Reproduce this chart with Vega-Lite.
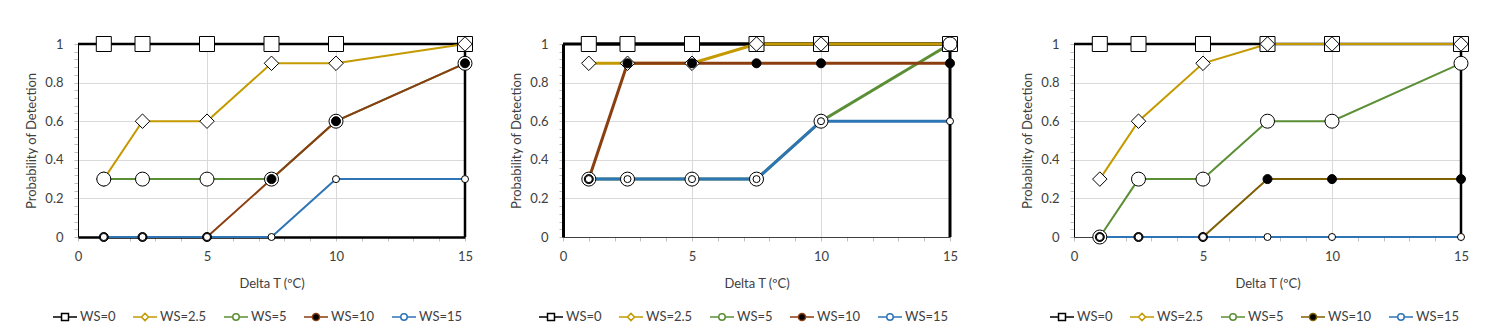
{
  "$schema": "https://vega.github.io/schema/vega-lite/v6.json",
  "padding": {"left": 25, "top": 34, "right": 5, "bottom": 5},
  "datasets": {
    "pts": [
      {"p":1,"ws":"WS=0","x":1,"y":1},{"p":1,"ws":"WS=0","x":2.5,"y":1},{"p":1,"ws":"WS=0","x":5,"y":1},{"p":1,"ws":"WS=0","x":7.5,"y":1},{"p":1,"ws":"WS=0","x":10,"y":1},{"p":1,"ws":"WS=0","x":15,"y":1},
      {"p":1,"ws":"WS=2.5","x":1,"y":0.3},{"p":1,"ws":"WS=2.5","x":2.5,"y":0.6},{"p":1,"ws":"WS=2.5","x":5,"y":0.6},{"p":1,"ws":"WS=2.5","x":7.5,"y":0.9},{"p":1,"ws":"WS=2.5","x":10,"y":0.9},{"p":1,"ws":"WS=2.5","x":15,"y":1},
      {"p":1,"ws":"WS=5","x":1,"y":0.3},{"p":1,"ws":"WS=5","x":2.5,"y":0.3},{"p":1,"ws":"WS=5","x":5,"y":0.3},{"p":1,"ws":"WS=5","x":7.5,"y":0.3},{"p":1,"ws":"WS=5","x":10,"y":0.6},{"p":1,"ws":"WS=5","x":15,"y":0.9},
      {"p":1,"ws":"WS=10","x":1,"y":0},{"p":1,"ws":"WS=10","x":2.5,"y":0},{"p":1,"ws":"WS=10","x":5,"y":0},{"p":1,"ws":"WS=10","x":7.5,"y":0.3},{"p":1,"ws":"WS=10","x":10,"y":0.6},{"p":1,"ws":"WS=10","x":15,"y":0.9},
      {"p":1,"ws":"WS=15","x":1,"y":0},{"p":1,"ws":"WS=15","x":2.5,"y":0},{"p":1,"ws":"WS=15","x":5,"y":0},{"p":1,"ws":"WS=15","x":7.5,"y":0},{"p":1,"ws":"WS=15","x":10,"y":0.3},{"p":1,"ws":"WS=15","x":15,"y":0.3},

      {"p":2,"ws":"WS=0","x":1,"y":1},{"p":2,"ws":"WS=0","x":2.5,"y":1},{"p":2,"ws":"WS=0","x":5,"y":1},{"p":2,"ws":"WS=0","x":7.5,"y":1},{"p":2,"ws":"WS=0","x":10,"y":1},{"p":2,"ws":"WS=0","x":15,"y":1},
      {"p":2,"ws":"WS=2.5","x":1,"y":0.9},{"p":2,"ws":"WS=2.5","x":2.5,"y":0.9},{"p":2,"ws":"WS=2.5","x":5,"y":0.9},{"p":2,"ws":"WS=2.5","x":7.5,"y":1},{"p":2,"ws":"WS=2.5","x":10,"y":1},{"p":2,"ws":"WS=2.5","x":15,"y":1},
      {"p":2,"ws":"WS=5","x":1,"y":0.3},{"p":2,"ws":"WS=5","x":2.5,"y":0.3},{"p":2,"ws":"WS=5","x":5,"y":0.3},{"p":2,"ws":"WS=5","x":7.5,"y":0.3},{"p":2,"ws":"WS=5","x":10,"y":0.6},{"p":2,"ws":"WS=5","x":15,"y":1},
      {"p":2,"ws":"WS=10","x":1,"y":0.3},{"p":2,"ws":"WS=10","x":2.5,"y":0.9},{"p":2,"ws":"WS=10","x":5,"y":0.9},{"p":2,"ws":"WS=10","x":7.5,"y":0.9},{"p":2,"ws":"WS=10","x":10,"y":0.9},{"p":2,"ws":"WS=10","x":15,"y":0.9},
      {"p":2,"ws":"WS=15","x":1,"y":0.3},{"p":2,"ws":"WS=15","x":2.5,"y":0.3},{"p":2,"ws":"WS=15","x":5,"y":0.3},{"p":2,"ws":"WS=15","x":7.5,"y":0.3},{"p":2,"ws":"WS=15","x":10,"y":0.6},{"p":2,"ws":"WS=15","x":15,"y":0.6},

      {"p":3,"ws":"WS=0","x":1,"y":1},{"p":3,"ws":"WS=0","x":2.5,"y":1},{"p":3,"ws":"WS=0","x":5,"y":1},{"p":3,"ws":"WS=0","x":7.5,"y":1},{"p":3,"ws":"WS=0","x":10,"y":1},{"p":3,"ws":"WS=0","x":15,"y":1},
      {"p":3,"ws":"WS=2.5","x":1,"y":0.3},{"p":3,"ws":"WS=2.5","x":2.5,"y":0.6},{"p":3,"ws":"WS=2.5","x":5,"y":0.9},{"p":3,"ws":"WS=2.5","x":7.5,"y":1},{"p":3,"ws":"WS=2.5","x":10,"y":1},{"p":3,"ws":"WS=2.5","x":15,"y":1},
      {"p":3,"ws":"WS=5","x":1,"y":0},{"p":3,"ws":"WS=5","x":2.5,"y":0.3},{"p":3,"ws":"WS=5","x":5,"y":0.3},{"p":3,"ws":"WS=5","x":7.5,"y":0.6},{"p":3,"ws":"WS=5","x":10,"y":0.6},{"p":3,"ws":"WS=5","x":15,"y":0.9},
      {"p":3,"ws":"WS=10","x":1,"y":0},{"p":3,"ws":"WS=10","x":2.5,"y":0},{"p":3,"ws":"WS=10","x":5,"y":0},{"p":3,"ws":"WS=10","x":7.5,"y":0.3},{"p":3,"ws":"WS=10","x":10,"y":0.3},{"p":3,"ws":"WS=10","x":15,"y":0.3},
      {"p":3,"ws":"WS=15","x":1,"y":0},{"p":3,"ws":"WS=15","x":2.5,"y":0},{"p":3,"ws":"WS=15","x":5,"y":0},{"p":3,"ws":"WS=15","x":7.5,"y":0},{"p":3,"ws":"WS=15","x":10,"y":0},{"p":3,"ws":"WS=15","x":15,"y":0}
    ],
    "frame": [
      {"p":1,"x":0,"x2":15,"y":1,"y2":1},{"p":1,"x":15,"x2":15,"y":0,"y2":1},
      {"p":2,"x":0,"x2":15,"y":1,"y2":1},{"p":2,"x":15,"x2":15,"y":0,"y2":1},
      {"p":3,"x":0,"x2":15,"y":1,"y2":1},{"p":3,"x":15,"x2":15,"y":0,"y2":1}
    ]
  },
  "hconcat": [
    {
      "hconcat": [
        {
          "width": 387, "height": 193,
          "data": {"name": "pts"},
          "encoding": {
            "x": {"field": "x", "type": "quantitative", "title": "Delta T (ºC)", "scale": {"domain": [0, 15], "nice": false},
              "axis": {"values": [0,1,2,3,4,5,6,7,8,9,10,11,12,13,14,15], "labelExpr": "datum.value % 5 === 0 ? datum.label : ''", "labelOverlap": false, "labelFlush": false, "gridOpacity": {"condition": {"test": "datum.value % 5 === 0", "value": 1}, "value": 0}, "domainColor": "black", "domainWidth": 2.5, "labelPadding": 9, "titlePadding": 14}},
            "y": {"field": "y", "type": "quantitative", "title": "Probability of Detection", "scale": {"domain": [0, 1], "nice": false},
              "axis": {"values": [0,0.04,0.08,0.12,0.16,0.2,0.24,0.28,0.32,0.36,0.4,0.44,0.48,0.52,0.56,0.6,0.64,0.68,0.72,0.76,0.8,0.84,0.88,0.92,0.96,1], "labelExpr": "abs(datum.value*5 - round(datum.value*5)) < 0.001 ? format(datum.value, '.1~f') : ''", "labelOverlap": false, "labelFlush": false, "gridOpacity": {"condition": {"test": "abs(datum.value*5 - round(datum.value*5)) < 0.001", "value": 1}, "value": 0}, "domainColor": "black", "domainWidth": 1, "labelPadding": 11, "titlePadding": 6}}
          },
          "layer": [
            {"data": {"name": "frame"}, "transform": [{"filter": "datum.p === 1"}], "mark": {"type": "rule", "color": "black", "strokeWidth": 2.5}, "encoding": {"x2": {"field": "x2"}, "y2": {"field": "y2"}}},
            {"transform": [{"filter": "datum.p === 1 && datum.ws === 'WS=0'"}], "mark": {"type": "line", "color": "black", "strokeWidth": 2}},
            {"transform": [{"filter": "datum.p === 1 && datum.ws === 'WS=2.5'"}], "mark": {"type": "line", "color": "#C49A00", "strokeWidth": 2}},
            {"transform": [{"filter": "datum.p === 1 && datum.ws === 'WS=5'"}], "mark": {"type": "line", "color": "#5B8F35", "strokeWidth": 2}},
            {"transform": [{"filter": "datum.p === 1 && datum.ws === 'WS=10'"}], "mark": {"type": "line", "color": "#8B3E10", "strokeWidth": 2}},
            {"transform": [{"filter": "datum.p === 1 && datum.ws === 'WS=15'"}], "mark": {"type": "line", "color": "#2E75B6", "strokeWidth": 2}},
            {"transform": [{"filter": "datum.p === 1 && datum.ws === 'WS=0'"}], "mark": {"type": "point", "shape": "square", "size": 225, "filled": true, "fill": "white", "stroke": "black", "strokeWidth": 1, "opacity": 1}},
            {"transform": [{"filter": "datum.p === 1 && datum.ws === 'WS=2.5'"}], "mark": {"type": "point", "shape": "diamond", "size": 210, "filled": true, "fill": "white", "stroke": "black", "strokeWidth": 1, "opacity": 1}},
            {"transform": [{"filter": "datum.p === 1 && datum.ws === 'WS=5'"}], "mark": {"type": "point", "shape": "circle", "size": 196, "filled": true, "fill": "white", "stroke": "black", "strokeWidth": 1, "opacity": 1}},
            {"transform": [{"filter": "datum.p === 1 && datum.ws === 'WS=10'"}], "mark": {"type": "point", "shape": "circle", "size": 81, "filled": true, "fill": "black", "stroke": "black", "strokeWidth": 1, "opacity": 1}},
            {"transform": [{"filter": "datum.p === 1 && datum.ws === 'WS=15'"}], "mark": {"type": "point", "shape": "circle", "size": 49, "filled": true, "fill": "white", "stroke": "black", "strokeWidth": 1, "opacity": 1}},
            {"transform": [{"filter": "datum.p === 1"}], "mark": {"type": "point", "filled": true, "opacity": 0},
              "encoding": {
                "shape": {"field": "ws", "type": "nominal", "scale": {"domain": ["WS=0","WS=2.5","WS=5","WS=10","WS=15"], "range": ["M-1,0H-0.29M0.29,0H1M-0.29,-0.29H0.29V0.29H-0.29Z", "M-1,0H-0.3M0.3,0H1M-0.3,0L0,-0.3L0.3,0L0,0.3Z", "M-1,0H-0.27M0.27,0H1M-0.27,0A0.27,0.27 0 1,0 0.27,0A0.27,0.27 0 1,0 -0.27,0Z", "M-1,0H-0.3M0.3,0H1M-0.3,0A0.3,0.3 0 1,0 0.3,0A0.3,0.3 0 1,0 -0.3,0Z", "M-1,0H-0.27M0.27,0H1M-0.27,0A0.27,0.27 0 1,0 0.27,0A0.27,0.27 0 1,0 -0.27,0Z"]},
                  "legend": {"title": null, "orient": "none", "legendX": -26, "legendY": 260, "direction": "horizontal"}},
                "fill": {"field": "ws", "type": "nominal", "scale": {"domain": ["WS=0","WS=2.5","WS=5","WS=10","WS=15"], "range": ["white","white","white","black","white"]},
                  "legend": {"title": null, "orient": "none", "legendX": -26, "legendY": 260, "direction": "horizontal"}},
                "stroke": {"field": "ws", "type": "nominal", "scale": {"domain": ["WS=0","WS=2.5","WS=5","WS=10","WS=15"], "range": ["black","#C49A00","#5B8F35","#8B3E10","#2E75B6"]},
                  "legend": {"title": null, "orient": "none", "legendX": -26, "legendY": 260, "direction": "horizontal"}}}}
          ]
        },
        {
          "width": 387, "height": 193,
          "data": {"name": "pts"},
          "encoding": {
            "x": {"field": "x", "type": "quantitative", "title": "Delta T (ºC)", "scale": {"domain": [0, 15], "nice": false},
              "axis": {"values": [0,1,2,3,4,5,6,7,8,9,10,11,12,13,14,15], "labelExpr": "datum.value % 5 === 0 ? datum.label : ''", "labelOverlap": false, "labelFlush": false, "gridOpacity": {"condition": {"test": "datum.value % 5 === 0", "value": 1}, "value": 0}, "domainColor": "#404040", "domainWidth": 1, "labelPadding": 9, "titlePadding": 14}},
            "y": {"field": "y", "type": "quantitative", "title": "Probability of Detection", "scale": {"domain": [0, 1], "nice": false},
              "axis": {"values": [0,0.04,0.08,0.12,0.16,0.2,0.24,0.28,0.32,0.36,0.4,0.44,0.48,0.52,0.56,0.6,0.64,0.68,0.72,0.76,0.8,0.84,0.88,0.92,0.96,1], "labelExpr": "abs(datum.value*5 - round(datum.value*5)) < 0.001 ? format(datum.value, '.1~f') : ''", "labelOverlap": false, "labelFlush": false, "gridOpacity": {"condition": {"test": "abs(datum.value*5 - round(datum.value*5)) < 0.001", "value": 1}, "value": 0}, "domainColor": "black", "domainWidth": 3, "labelPadding": 11, "titlePadding": 6}}
          },
          "layer": [
            {"data": {"name": "frame"}, "transform": [{"filter": "datum.p === 2"}], "mark": {"type": "rule", "color": "black", "strokeWidth": 3}, "encoding": {"x2": {"field": "x2"}, "y2": {"field": "y2"}}},
            {"transform": [{"filter": "datum.p === 2 && datum.ws === 'WS=0'"}], "mark": {"type": "line", "color": "black", "strokeWidth": 3}},
            {"transform": [{"filter": "datum.p === 2 && datum.ws === 'WS=2.5'"}], "mark": {"type": "line", "color": "#C49A00", "strokeWidth": 3}},
            {"transform": [{"filter": "datum.p === 2 && datum.ws === 'WS=5'"}], "mark": {"type": "line", "color": "#5B8F35", "strokeWidth": 3}},
            {"transform": [{"filter": "datum.p === 2 && datum.ws === 'WS=10'"}], "mark": {"type": "line", "color": "#8B3E10", "strokeWidth": 3}},
            {"transform": [{"filter": "datum.p === 2 && datum.ws === 'WS=15'"}], "mark": {"type": "line", "color": "#2E75B6", "strokeWidth": 3}},
            {"transform": [{"filter": "datum.p === 2 && datum.ws === 'WS=0'"}], "mark": {"type": "point", "shape": "square", "size": 225, "filled": true, "fill": "white", "stroke": "black", "strokeWidth": 1, "opacity": 1}},
            {"transform": [{"filter": "datum.p === 2 && datum.ws === 'WS=2.5'"}], "mark": {"type": "point", "shape": "diamond", "size": 210, "filled": true, "fill": "white", "stroke": "black", "strokeWidth": 1, "opacity": 1}},
            {"transform": [{"filter": "datum.p === 2 && datum.ws === 'WS=5'"}], "mark": {"type": "point", "shape": "circle", "size": 196, "filled": true, "fill": "white", "stroke": "black", "strokeWidth": 1, "opacity": 1}},
            {"transform": [{"filter": "datum.p === 2 && datum.ws === 'WS=10'"}], "mark": {"type": "point", "shape": "circle", "size": 81, "filled": true, "fill": "black", "stroke": "black", "strokeWidth": 1, "opacity": 1}},
            {"transform": [{"filter": "datum.p === 2 && datum.ws === 'WS=15'"}], "mark": {"type": "point", "shape": "circle", "size": 49, "filled": true, "fill": "white", "stroke": "black", "strokeWidth": 1, "opacity": 1}},
            {"transform": [{"filter": "datum.p === 2"}], "mark": {"type": "point", "filled": true, "opacity": 0},
              "encoding": {
                "shape": {"field": "ws", "type": "nominal", "scale": {"domain": ["WS=0","WS=2.5","WS=5","WS=10","WS=15"], "range": ["M-1,0H-0.29M0.29,0H1M-0.29,-0.29H0.29V0.29H-0.29Z", "M-1,0H-0.3M0.3,0H1M-0.3,0L0,-0.3L0.3,0L0,0.3Z", "M-1,0H-0.27M0.27,0H1M-0.27,0A0.27,0.27 0 1,0 0.27,0A0.27,0.27 0 1,0 -0.27,0Z", "M-1,0H-0.3M0.3,0H1M-0.3,0A0.3,0.3 0 1,0 0.3,0A0.3,0.3 0 1,0 -0.3,0Z", "M-1,0H-0.27M0.27,0H1M-0.27,0A0.27,0.27 0 1,0 0.27,0A0.27,0.27 0 1,0 -0.27,0Z"]},
                  "legend": {"title": null, "orient": "none", "legendX": -25, "legendY": 260, "direction": "horizontal"}},
                "fill": {"field": "ws", "type": "nominal", "scale": {"domain": ["WS=0","WS=2.5","WS=5","WS=10","WS=15"], "range": ["white","white","white","black","white"]},
                  "legend": {"title": null, "orient": "none", "legendX": -25, "legendY": 260, "direction": "horizontal"}},
                "stroke": {"field": "ws", "type": "nominal", "scale": {"domain": ["WS=0","WS=2.5","WS=5","WS=10","WS=15"], "range": ["black","#C49A00","#5B8F35","#8B3E10","#2E75B6"]},
                  "legend": {"title": null, "orient": "none", "legendX": -25, "legendY": 260, "direction": "horizontal"}}}}
          ]
        }
      ],
      "spacing": 35,
      "resolve": {"scale": {"shape": "independent", "fill": "independent", "stroke": "independent"}, "legend": {"shape": "independent", "fill": "independent", "stroke": "independent"}}
    },
    {
      "width": 387, "height": 193,
      "data": {"name": "pts"},
      "encoding": {
        "x": {"field": "x", "type": "quantitative", "title": "Delta T (ºC)", "scale": {"domain": [0, 15], "nice": false},
          "axis": {"values": [0,1,2,3,4,5,6,7,8,9,10,11,12,13,14,15], "labelExpr": "datum.value % 5 === 0 ? datum.label : ''", "labelOverlap": false, "labelFlush": false, "gridOpacity": {"condition": {"test": "datum.value % 5 === 0", "value": 1}, "value": 0}, "domainColor": "#404040", "domainWidth": 1, "labelPadding": 9, "titlePadding": 14}},
        "y": {"field": "y", "type": "quantitative", "title": "Probability of Detection", "scale": {"domain": [0, 1], "nice": false},
          "axis": {"values": [0,0.04,0.08,0.12,0.16,0.2,0.24,0.28,0.32,0.36,0.4,0.44,0.48,0.52,0.56,0.6,0.64,0.68,0.72,0.76,0.8,0.84,0.88,0.92,0.96,1], "labelExpr": "abs(datum.value*5 - round(datum.value*5)) < 0.001 ? format(datum.value, '.1~f') : ''", "labelOverlap": false, "labelFlush": false, "gridOpacity": {"condition": {"test": "abs(datum.value*5 - round(datum.value*5)) < 0.001", "value": 1}, "value": 0}, "domainColor": "black", "domainWidth": 1, "labelPadding": 11, "titlePadding": 6}}
      },
      "layer": [
        {"data": {"name": "frame"}, "transform": [{"filter": "datum.p === 3"}], "mark": {"type": "rule", "color": "black", "strokeWidth": 2.5}, "encoding": {"x2": {"field": "x2"}, "y2": {"field": "y2"}}},
        {"transform": [{"filter": "datum.p === 3 && datum.ws === 'WS=0'"}], "mark": {"type": "line", "color": "black", "strokeWidth": 2}},
        {"transform": [{"filter": "datum.p === 3 && datum.ws === 'WS=2.5'"}], "mark": {"type": "line", "color": "#C49A00", "strokeWidth": 2}},
        {"transform": [{"filter": "datum.p === 3 && datum.ws === 'WS=5'"}], "mark": {"type": "line", "color": "#5B8F35", "strokeWidth": 2}},
        {"transform": [{"filter": "datum.p === 3 && datum.ws === 'WS=10'"}], "mark": {"type": "line", "color": "#7F6000", "strokeWidth": 2}},
        {"transform": [{"filter": "datum.p === 3 && datum.ws === 'WS=15'"}], "mark": {"type": "line", "color": "#2E75B6", "strokeWidth": 2}},
        {"transform": [{"filter": "datum.p === 3 && datum.ws === 'WS=0'"}], "mark": {"type": "point", "shape": "square", "size": 225, "filled": true, "fill": "white", "stroke": "black", "strokeWidth": 1, "opacity": 1}},
        {"transform": [{"filter": "datum.p === 3 && datum.ws === 'WS=2.5'"}], "mark": {"type": "point", "shape": "diamond", "size": 210, "filled": true, "fill": "white", "stroke": "black", "strokeWidth": 1, "opacity": 1}},
        {"transform": [{"filter": "datum.p === 3 && datum.ws === 'WS=5'"}], "mark": {"type": "point", "shape": "circle", "size": 196, "filled": true, "fill": "white", "stroke": "black", "strokeWidth": 1, "opacity": 1}},
        {"transform": [{"filter": "datum.p === 3 && datum.ws === 'WS=10'"}], "mark": {"type": "point", "shape": "circle", "size": 81, "filled": true, "fill": "black", "stroke": "black", "strokeWidth": 1, "opacity": 1}},
        {"transform": [{"filter": "datum.p === 3 && datum.ws === 'WS=15'"}], "mark": {"type": "point", "shape": "circle", "size": 49, "filled": true, "fill": "white", "stroke": "black", "strokeWidth": 1, "opacity": 1}},
        {"transform": [{"filter": "datum.p === 3"}], "mark": {"type": "point", "filled": true, "opacity": 0},
          "encoding": {
            "shape": {"field": "ws", "type": "nominal", "scale": {"domain": ["WS=0","WS=2.5","WS=5","WS=10","WS=15"], "range": ["M-1,0H-0.29M0.29,0H1M-0.29,-0.29H0.29V0.29H-0.29Z", "M-1,0H-0.3M0.3,0H1M-0.3,0L0,-0.3L0.3,0L0,0.3Z", "M-1,0H-0.27M0.27,0H1M-0.27,0A0.27,0.27 0 1,0 0.27,0A0.27,0.27 0 1,0 -0.27,0Z", "M-1,0H-0.3M0.3,0H1M-0.3,0A0.3,0.3 0 1,0 0.3,0A0.3,0.3 0 1,0 -0.3,0Z", "M-1,0H-0.27M0.27,0H1M-0.27,0A0.27,0.27 0 1,0 0.27,0A0.27,0.27 0 1,0 -0.27,0Z"]},
              "legend": {"title": null, "orient": "none", "legendX": -25, "legendY": 260, "direction": "horizontal"}},
            "fill": {"field": "ws", "type": "nominal", "scale": {"domain": ["WS=0","WS=2.5","WS=5","WS=10","WS=15"], "range": ["white","white","white","black","white"]},
              "legend": {"title": null, "orient": "none", "legendX": -25, "legendY": 260, "direction": "horizontal"}},
            "stroke": {"field": "ws", "type": "nominal", "scale": {"domain": ["WS=0","WS=2.5","WS=5","WS=10","WS=15"], "range": ["black","#C49A00","#5B8F35","#7F6000","#2E75B6"]},
              "legend": {"title": null, "orient": "none", "legendX": -25, "legendY": 260, "direction": "horizontal"}}}}
      ]
    }
  ],
  "spacing": 61,
  "resolve": {"scale": {"shape": "independent", "fill": "independent", "stroke": "independent"}, "legend": {"shape": "independent", "fill": "independent", "stroke": "independent"}},
  "config": {
    "view": {"stroke": null},
    "font": "Lato",
    "axis": {"labelFont": "Lato", "labelFontSize": 13, "labelColor": "#404040", "titleFont": "Lato", "titleFontSize": 13, "titleFontWeight": "normal", "titleColor": "#404040", "gridColor": "#D9D9D9", "tickColor": "#BFBFBF", "tickSize": 4},
    "legend": {"labelFont": "Lato", "labelFontSize": 13, "labelColor": "#404040", "symbolSize": 576, "symbolOpacity": 1, "symbolStrokeWidth": 1.5, "columnPadding": 14, "labelOffset": 2}
  }
}
